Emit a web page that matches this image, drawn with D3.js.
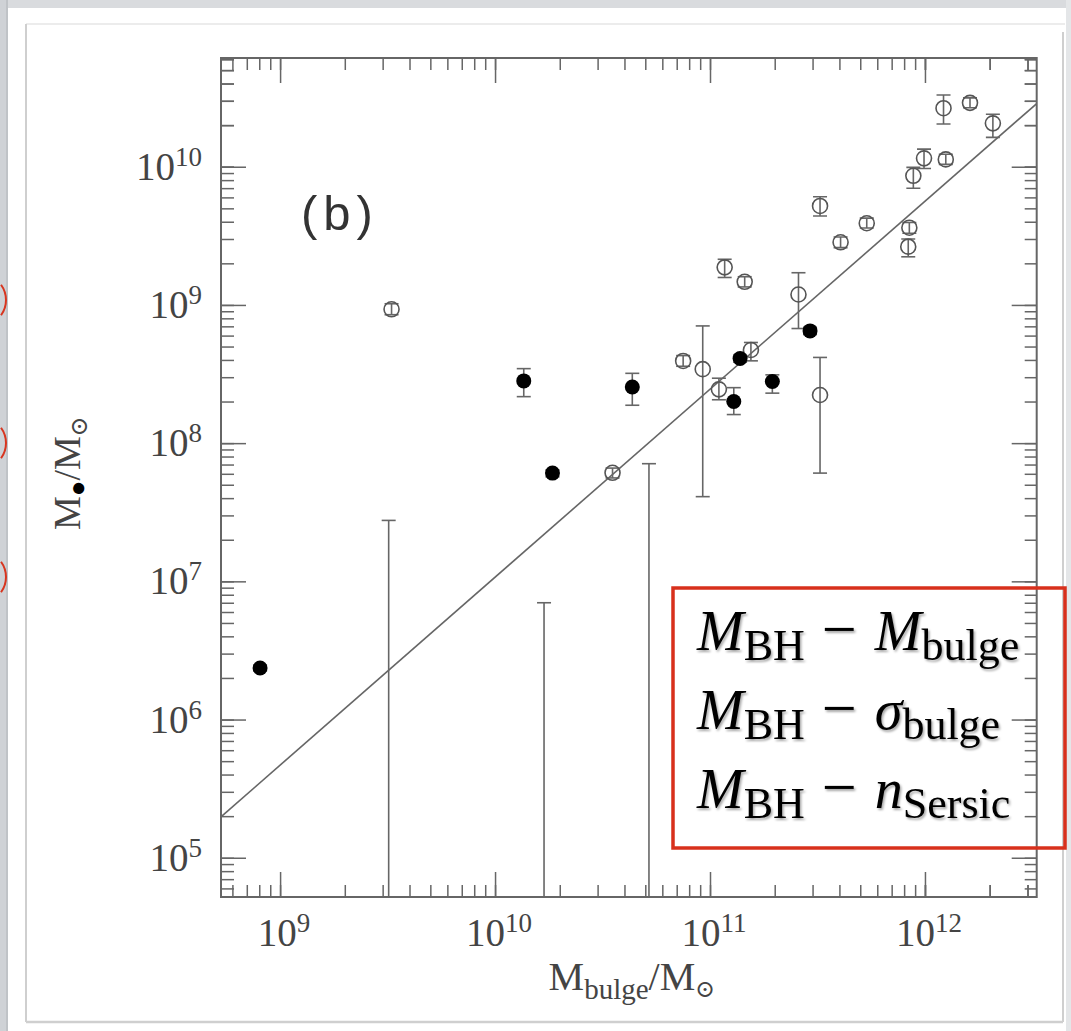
<!DOCTYPE html>
<html lang="en">
<head>
<meta charset="utf-8">
<title>M_BH - M_bulge</title>
<script src="https://d3js.org/d3.v7.min.js"></script>
<style>
  body { margin: 0; background: #fff; }
  svg { display: block; }
  .lbl { font-family: "Liberation Serif", "DejaVu Serif", serif; fill: #444; }
  .tick line { stroke: #666; stroke-width: 1.5; }
</style>
</head>
<body>
<svg width="1071" height="1031"></svg>
<script>
// --- data ---
// filled circles: bulge mass, BH mass, lower / upper error
const filledPts = [
  {m: 8.07e8,  bh: 2.36e6, lo: 2.25e6, hi: 2.48e6},
  {m: 1.36e10, bh: 2.82e8, lo: 2.17e8, hi: 3.46e8},
  {m: 1.85e10, bh: 6.07e7, lo: 5.7e7,  hi: 6.4e7},
  {m: 4.35e10, bh: 2.55e8, lo: 1.88e8, hi: 3.2e8},
  {m: 1.29e11, bh: 2.0e8,  lo: 1.61e8, hi: 2.52e8},
  {m: 1.38e11, bh: 4.1e8,  lo: 3.85e8, hi: 4.35e8},
  {m: 1.95e11, bh: 2.79e8, lo: 2.3e8,  hi: 3.12e8},
  {m: 2.92e11, bh: 6.49e8, lo: 6.1e8,  hi: 6.9e8}
];
// open circles
const openPts = [
  {m: 3.3e9,   bh: 9.3e8,  lo: 8.5e8,  hi: 1.02e9},
  {m: 3.52e10, bh: 6.1e7,  lo: 5.6e7,  hi: 6.6e7},
  {m: 7.5e10,  bh: 3.93e8, lo: 3.6e8,  hi: 4.3e8},
  {m: 9.25e10, bh: 3.43e8, lo: 4.1e7,  hi: 7.05e8},
  {m: 1.1e11,  bh: 2.45e8, lo: 2.06e8, hi: 2.95e8},
  {m: 1.17e11, bh: 1.87e9, lo: 1.58e9, hi: 2.14e9},
  {m: 1.45e11, bh: 1.47e9, lo: 1.35e9, hi: 1.6e9},
  {m: 1.55e11, bh: 4.72e8, lo: 3.94e8, hi: 5.35e8},
  {m: 2.58e11, bh: 1.19e9, lo: 6.75e8, hi: 1.71e9},
  {m: 3.25e11, bh: 2.23e8, lo: 6.07e7, hi: 4.17e8},
  {m: 3.25e11, bh: 5.2e9,  lo: 4.4e9,  hi: 6.07e9},
  {m: 4.05e11, bh: 2.84e9, lo: 2.6e9,  hi: 3.1e9},
  {m: 5.36e11, bh: 3.9e9,  lo: 3.6e9,  hi: 4.25e9},
  {m: 8.36e11, bh: 2.64e9, lo: 2.23e9, hi: 3.0e9},
  {m: 8.46e11, bh: 3.62e9, lo: 3.3e9,  hi: 3.95e9},
  {m: 8.83e11, bh: 8.6e9,  lo: 6.98e9, hi: 9.9e9},
  {m: 9.9e11,  bh: 1.15e10,lo: 9.7e9,  hi: 1.34e10},
  {m: 1.25e12, bh: 1.13e10,lo: 1.04e10,hi: 1.23e10},
  {m: 1.22e12, bh: 2.65e10,lo: 2.04e10,hi: 3.3e10},
  {m: 1.62e12, bh: 2.9e10, lo: 2.67e10,hi: 3.15e10},
  {m: 2.07e12, bh: 2.06e10,lo: 1.63e10,hi: 2.4e10}
];
// upper limits only (bar runs off the bottom of the plot)
const limitPts = [
  {m: 3.2e9,  hi: 2.76e7},
  {m: 1.69e10, hi: 7.0e6},
  {m: 5.2e10, hi: 7.1e7}
];
// fitted relation log Mbh = a + b log Mbulge
const fitA = -6.57, fitB = 1.36;

const xDecades = [1e9, 1e10, 1e11, 1e12];
const yDecades = [1e5, 1e6, 1e7, 1e8, 1e9, 1e10];
const xExp = ["9", "10", "11", "12"];
const yExp = ["5", "6", "7", "8", "9", "10"];

const legendLines = [
  {sym: "M", sub: "bulge"},
  {sym: "σ", sub: "bulge"},
  {sym: "n", sub: "Sersic"}
];

// --- layout ---
const L = 221, R = 1036.7, T = 58, B = 897;
const svg = d3.select("svg");

const defs = svg.append("defs");
defs.append("clipPath").attr("id", "plotclip")
  .append("rect").attr("x", L).attr("y", T).attr("width", R - L).attr("height", B - T);
defs.append("filter").attr("id", "shadow")
  .attr("x", "-10%").attr("y", "-20%").attr("width", "130%").attr("height", "150%")
  .append("feDropShadow").attr("dx", 1.5).attr("dy", 2).attr("stdDeviation", 1.3)
  .attr("flood-color", "#000").attr("flood-opacity", 0.35);

// page background bits (slide edge)
svg.append("rect").attr("x", 0).attr("y", 0).attr("width", 1071).attr("height", 8).attr("fill", "#d9dbde");
svg.append("rect").attr("x", 0).attr("y", 0).attr("width", 8).attr("height", 1031).attr("fill", "#cfd2d6");
svg.append("line").attr("x1", 7).attr("x2", 7).attr("y1", 0).attr("y2", 1031).attr("stroke", "#b0b4b8").attr("stroke-width", 1);
svg.append("rect").attr("x", 1066).attr("y", 0).attr("width", 5).attr("height", 1031).attr("fill", "#e4e6e8");
const page = svg.append("g").attr("fill", "none").attr("stroke", "#cfcfcf");
page.append("line").attr("x1", 26).attr("x2", 1065).attr("y1", 24).attr("y2", 24).attr("stroke", "#e6e6e6").attr("stroke-width", 1.5);
page.append("line").attr("x1", 26).attr("x2", 26).attr("y1", 24).attr("y2", 1022).attr("stroke-width", 2);
page.append("line").attr("x1", 1063).attr("x2", 1063).attr("y1", 32).attr("y2", 1022).attr("stroke-width", 2);
page.append("line").attr("x1", 26).attr("x2", 1063).attr("y1", 1022).attr("y2", 1022).attr("stroke-width", 2.5);
// red arcs peeking in from the left
[300, 443, 577].forEach(cy => {
  svg.append("path")
    .attr("d", d3.arc()({innerRadius: 26, outerRadius: 26, startAngle: 0.3 * Math.PI, endAngle: 0.7 * Math.PI}))
    .attr("transform", `translate(-20,${cy})`)
    .attr("fill", "none").attr("stroke", "#d8351f").attr("stroke-width", 2);
});

// --- scales ---
const x = d3.scaleLog().domain([5.31e8, 3.31e12]).range([L, R]);
const y = d3.scaleLog().domain([5.2e4, 6.12e10]).range([B, T]);

const minorOf = (decs, sc) => {
  const [a, b] = sc.domain();
  const out = [];
  [decs[0] / 10, ...decs].forEach(d => [1, 2, 3, 4, 5, 6, 7, 8, 9].forEach(k => {
    const v = k * d; if (v >= a && v <= b) out.push(v);
  }));
  return out;
};
const xMinor = minorOf(xDecades, x).concat(minorOf([1e13], x));
const yMinor = minorOf(yDecades, y).concat(minorOf([1e11], y));

function ticks(axisFn, scale, vals, size, tr) {
  svg.append("g").attr("transform", tr)
    .call(axisFn(scale).tickValues(vals).tickSize(-size).tickSizeOuter(0).tickFormat(""))
    .call(g => g.select(".domain").remove());
}
ticks(d3.axisBottom, x, xMinor, 12, `translate(0,${B})`);
ticks(d3.axisBottom, x, xDecades, 25, `translate(0,${B})`);
ticks(d3.axisTop, x, xMinor, 12, `translate(0,${T})`);
ticks(d3.axisTop, x, xDecades, 25, `translate(0,${T})`);
ticks(d3.axisLeft, y, yMinor, 13, `translate(${L},0)`);
ticks(d3.axisLeft, y, yDecades, 25, `translate(${L},0)`);
ticks(d3.axisRight, y, yMinor, 12, `translate(${R},0)`);
ticks(d3.axisRight, y, yDecades, 25, `translate(${R},0)`);

svg.append("rect").attr("x", L).attr("y", T).attr("width", R - L).attr("height", B - T)
  .attr("fill", "none").attr("stroke", "#666").attr("stroke-width", 2);

// tick labels
yDecades.forEach((d, i) => {
  const t = svg.append("text").attr("class", "lbl").attr("x", 202).attr("y", y(d) + 13)
    .attr("text-anchor", "end").attr("font-size", 39);
  t.append("tspan").text("10");
  t.append("tspan").attr("dy", -14).attr("font-size", 27).text(yExp[i]);
});
xDecades.forEach((d, i) => {
  const t = svg.append("text").attr("class", "lbl").attr("x", x(d) + 4).attr("y", 946)
    .attr("text-anchor", "middle").attr("font-size", 39);
  t.append("tspan").text("10");
  t.append("tspan").attr("dy", -14).attr("font-size", 27).text(xExp[i]);
});

// axis titles
const xt = svg.append("text").attr("class", "lbl").attr("x", 632).attr("y", 990)
  .attr("text-anchor", "middle").attr("font-size", 40);
xt.append("tspan").text("M");
xt.append("tspan").attr("dy", 9).attr("font-size", 29).text("bulge");
xt.append("tspan").attr("dy", -9).text("/M");
xt.append("tspan").attr("dy", 7).attr("font-size", 24).text("⊙");

const yt = svg.append("text").attr("class", "lbl")
  .attr("transform", "translate(80,473) rotate(-90)")
  .attr("text-anchor", "middle").attr("font-size", 38);
yt.append("tspan").text("M");
yt.append("tspan").attr("dy", 6).attr("font-size", 26).attr("fill", "#000").text("●");
yt.append("tspan").attr("dy", -6).text("/M");
yt.append("tspan").attr("dy", 7).attr("font-size", 24).text("⊙");

// panel label
svg.append("text").attr("x", 301).attr("y", 230)
  .attr("font-family", "'Liberation Sans', sans-serif").attr("font-size", 49)
  .attr("letter-spacing", 6).attr("fill", "#333").text("(b)");

// --- marks ---
const plot = svg.append("g").attr("clip-path", "url(#plotclip)");

plot.append("line")
  .attr("x1", x(x.domain()[0])).attr("y1", y(Math.pow(10, fitA + fitB * Math.log10(x.domain()[0]))))
  .attr("x2", x(x.domain()[1])).attr("y2", y(Math.pow(10, fitA + fitB * Math.log10(x.domain()[1]))))
  .attr("stroke", "#666").attr("stroke-width", 1.6);

const cap = 7;
function errBars(data) {
  const g = plot.append("g").attr("stroke", "#666").attr("stroke-width", 1.6);
  g.selectAll(".v").data(data).join("line")
    .attr("x1", d => x(d.m)).attr("x2", d => x(d.m))
    .attr("y1", d => y(d.hi)).attr("y2", d => y(d.lo));
  g.selectAll(".t").data(data).join("line")
    .attr("x1", d => x(d.m) - cap).attr("x2", d => x(d.m) + cap)
    .attr("y1", d => y(d.hi)).attr("y2", d => y(d.hi));
  g.selectAll(".b").data(data).join("line")
    .attr("x1", d => x(d.m) - cap).attr("x2", d => x(d.m) + cap)
    .attr("y1", d => y(d.lo)).attr("y2", d => y(d.lo));
}

// upper limits
const lg = plot.append("g").attr("stroke", "#666").attr("stroke-width", 1.6);
lg.selectAll(".lv").data(limitPts).join("line")
  .attr("x1", d => x(d.m)).attr("x2", d => x(d.m))
  .attr("y1", d => y(d.hi)).attr("y2", B + 5);
lg.selectAll(".lc").data(limitPts).join("line")
  .attr("x1", d => x(d.m) - cap).attr("x2", d => x(d.m) + cap)
  .attr("y1", d => y(d.hi)).attr("y2", d => y(d.hi));

errBars(openPts);
errBars(filledPts);

plot.append("g").selectAll("circle").data(openPts).join("circle")
  .attr("cx", d => x(d.m)).attr("cy", d => y(d.bh)).attr("r", 7.5)
  .attr("fill", "none").attr("stroke", "#555").attr("stroke-width", 1.6);

plot.append("g").selectAll("circle").data(filledPts).join("circle")
  .attr("cx", d => x(d.m)).attr("cy", d => y(d.bh)).attr("r", 7.5)
  .attr("fill", "#000");

// --- legend box ---
svg.append("rect").attr("x", 673).attr("y", 588).attr("width", 392).attr("height", 260)
  .attr("fill", "none").attr("stroke", "#d8301c").attr("stroke-width", 3.5);

legendLines.forEach((l, i) => {
  const t = svg.append("text").attr("x", 697).attr("y", 650 + i * 79)
    .attr("font-family", "'Liberation Serif', 'DejaVu Serif', serif").attr("font-size", 56)
    .attr("fill", "#000").attr("filter", "url(#shadow)");
  t.append("tspan").attr("font-style", "italic").text("M");
  t.append("tspan").attr("dy", 10).attr("font-size", 44).text("BH");
  t.append("tspan").attr("dy", -10).attr("dx", 17).attr("font-size", 62).text("−");
  t.append("tspan").attr("dx", 18).attr("font-style", "italic").text(l.sym);
  t.append("tspan").attr("dy", 10).attr("font-size", 44).text(l.sub);
});
</script>
</body>
</html>
